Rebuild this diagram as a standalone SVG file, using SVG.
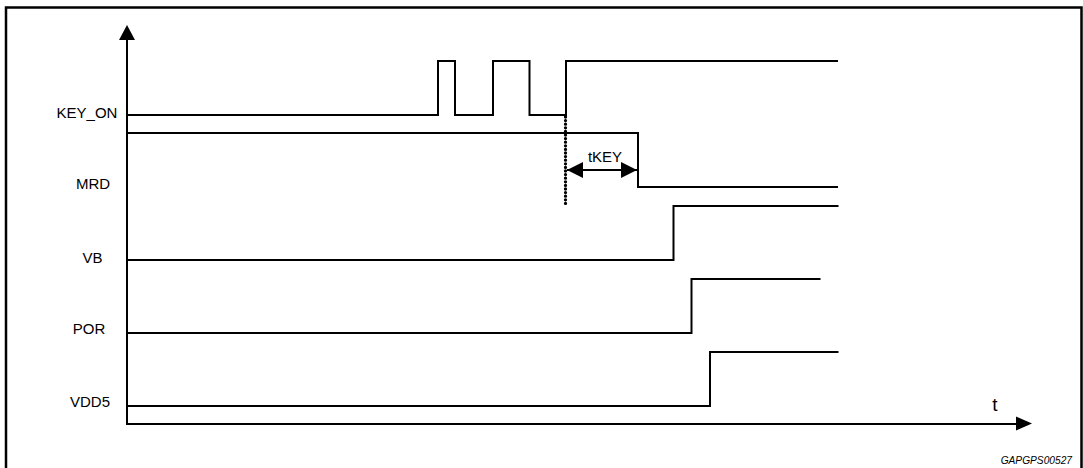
<svg xmlns="http://www.w3.org/2000/svg" width="1083" height="468" viewBox="0 0 1083 468">
<style>
.w{fill:none;stroke:#000;stroke-width:2;stroke-linejoin:miter;stroke-linecap:square}
.lbl{font-family:"Liberation Sans",Arial,sans-serif;font-size:15px;fill:#000;text-anchor:middle}
</style>
<defs>
<marker id="ah" viewBox="0 0 16 16" refX="16" refY="8" markerWidth="16" markerHeight="16" markerUnits="userSpaceOnUse" orient="auto-start-reverse">
<path d="M0,0 L16,8 L0,16 Z" fill="#000"/>
</marker>
</defs>
<rect x="0" y="0" width="1083" height="468" fill="#fff"/>
<g id="frame"><path d="M6,468 V7.5 H1081.5 V468" fill="none" stroke="#000" stroke-width="2.5"/></g>
<g id="axes">
<path d="M127,424 V40" class="w"/>
<path d="M119,40 L127,25 L135,40 Z" fill="#000"/>
<path d="M127,424 H1016" class="w"/>
<path d="M1016,416.5 L1032,423.5 L1016,430.5 Z" fill="#000"/>
<text x="995" y="411" class="lbl" style="font-size:19px">t</text>
</g>
<g id="labels">
<text x="87" y="118" class="lbl">KEY_ON</text>
<text x="93" y="189" class="lbl">MRD</text>
<text x="92.5" y="263" class="lbl">VB</text>
<text x="89" y="334" class="lbl">POR</text>
<text x="90" y="407" class="lbl">VDD5</text>
</g>
<g id="KEY_ON"><path d="M127,115 H438 V61 H455 V115 H493 V61 H529.5 V115 H566 V61 H837" class="w"/></g>
<g id="MRD"><path d="M127,133 H638 V187 H837" class="w"/></g>
<g id="VB"><path d="M127,260 H673.5 V206 H837.5" class="w"/></g>
<g id="POR"><path d="M127,333 H691.5 V279 H819.5" class="w"/></g>
<g id="VDD5"><path d="M127,406 H710 V352 H837.5" class="w"/></g>
<g id="connectors">
<path d="M565.5,117 V204" fill="none" stroke="#000" stroke-width="3.3" stroke-linecap="round" stroke-dasharray="0 3.6"/>
<path d="M567,170 H637" fill="none" stroke="#000" stroke-width="2" marker-start="url(#ah)" marker-end="url(#ah)"/>
<text x="605" y="162" class="lbl">tKEY</text>
</g>
<text x="1072" y="464" style="font-family:'Liberation Sans',Arial,sans-serif;font-size:10.2px;font-style:italic;text-anchor:end">GAPGPS00527</text>
</svg>
